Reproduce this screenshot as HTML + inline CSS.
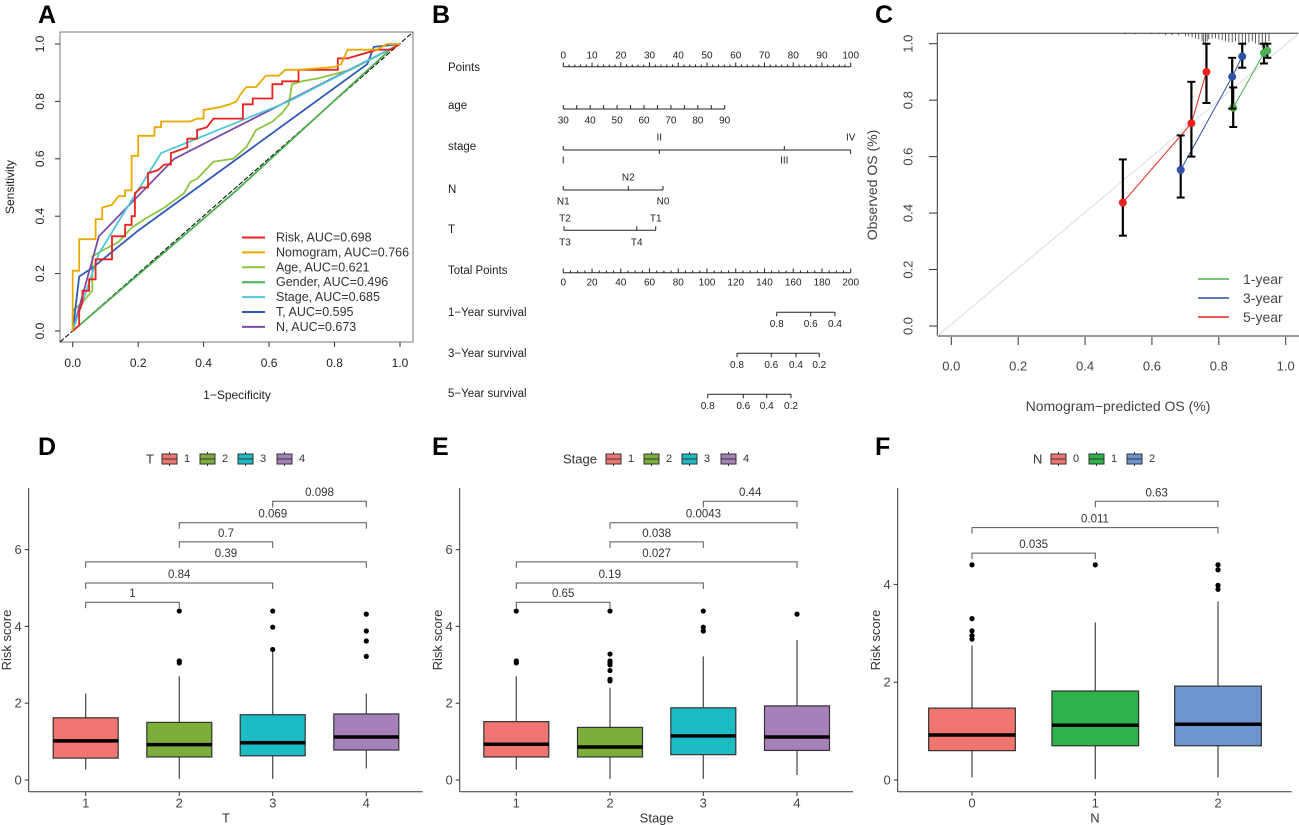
<!DOCTYPE html>
<html><head><meta charset="utf-8"><style>
html,body{margin:0;padding:0;background:#fff}
svg{display:block;font-family:"Liberation Sans",Arial,sans-serif}
</style></head><body>
<svg id="fig" width="1299" height="825" viewBox="0 0 1299 825" xmlns="http://www.w3.org/2000/svg"></svg>
<script>
// ---------- Panel A data (ROC) ----------
const rocNames = ["Risk, AUC=0.698","Nomogram, AUC=0.766","Age, AUC=0.621","Gender, AUC=0.496","Stage, AUC=0.685","T, AUC=0.595","N, AUC=0.673"];
const rocColors = ["#e8231f","#e8a900","#8cc63f","#4caf50","#4fc7d9","#2f59b5","#7b4ba8"];
const rocRiskFpr = [0,0.02,0.02,0.03,0.03,0.05,0.05,0.07,0.07,0.12,0.12,0.16,0.16,0.18,0.18,0.19,0.19,0.21,0.23,0.23,0.26,0.28,0.3,0.3,0.35,0.35,0.38,0.38,0.41,0.43,0.52,0.52,0.55,0.55,0.61,0.61,0.64,0.64,0.69,0.69,0.81,0.81,0.84,0.93,0.97,1];
const rocRiskTpr = [0,0.02,0.07,0.1,0.14,0.14,0.18,0.18,0.25,0.25,0.33,0.33,0.37,0.37,0.40,0.40,0.48,0.5,0.5,0.55,0.56,0.58,0.58,0.62,0.64,0.67,0.67,0.70,0.71,0.74,0.74,0.79,0.79,0.81,0.81,0.86,0.86,0.87,0.87,0.91,0.91,0.95,0.95,0.98,0.98,1];
const rocNomoFpr = [0,0,0.02,0.02,0.07,0.07,0.09,0.09,0.12,0.14,0.16,0.16,0.18,0.18,0.2,0.2,0.25,0.25,0.27,0.27,0.36,0.38,0.4,0.4,0.45,0.48,0.5,0.51,0.53,0.56,0.59,0.63,0.65,0.69,0.8,0.82,0.84,0.93,0.96,1];
const rocNomoTpr = [0,0.21,0.21,0.32,0.32,0.39,0.39,0.43,0.44,0.47,0.47,0.49,0.49,0.61,0.61,0.68,0.68,0.71,0.71,0.73,0.73,0.74,0.74,0.77,0.78,0.79,0.8,0.82,0.85,0.85,0.89,0.89,0.91,0.91,0.92,0.93,0.98,0.98,1,1];
const rocAgeFpr = [0,0,0.03,0.06,0.06,0.09,0.14,0.18,0.22,0.28,0.34,0.36,0.38,0.43,0.49,0.53,0.56,0.61,0.64,0.66,0.67,0.7,0.75,0.85,1];
const rocAgeTpr = [0,0.07,0.1,0.14,0.26,0.28,0.31,0.36,0.39,0.43,0.48,0.52,0.53,0.59,0.6,0.64,0.7,0.73,0.76,0.79,0.86,0.87,0.88,0.91,1];
const rocGenderFpr = [0,0.5,0.95,0.97,1];
const rocGenderTpr = [0,0.49,0.96,0.98,1];
const rocStageFpr = [0,0.08,0.15,0.27,0.66,1];
const rocStageTpr = [0,0.27,0.4,0.62,0.8,1];
const rocTFpr = [0,0.02,0.06,0.2,0.9,0.92,1];
const rocTTpr = [0,0.19,0.22,0.35,0.93,0.99,1];
const rocNFpr = [0,0.08,0.31,1];
const rocNTpr = [0,0.33,0.6,1];
const rocTicks = [0,0.2,0.4,0.6,0.8,1.0];

// ---------- Panel C data (calibration) ----------
const calGroups = ["1-year","3-year","5-year"];
const calColors = ["#4caf50","#2f4fa8","#e8231f"];
const cal1Pred = [0.843,0.935,0.945];
const cal1Obs = [0.773,0.967,0.975];
const cal1Lo = [0.705,0.93,0.95];
const cal1Hi = [0.845,1.0,1.0];
const cal3Pred = [0.686,0.84,0.87];
const cal3Obs = [0.553,0.883,0.955];
const cal3Lo = [0.455,0.77,0.915];
const cal3Hi = [0.675,0.95,1.0];
const cal5Pred = [0.513,0.718,0.763];
const cal5Obs = [0.437,0.718,0.9];
const cal5Lo = [0.32,0.6,0.79];
const cal5Hi = [0.59,0.865,1.0];
const calRug = [0.52,0.55,0.6,0.62,0.64,0.66,0.68,0.7,0.71,0.72,0.73,0.74,0.75,0.755,0.76,0.765,0.77,0.78,0.79,0.8,0.81,0.82,0.83,0.84,0.85,0.86,0.87,0.88,0.89,0.9,0.91,0.92,0.93,0.94,0.95];
const calRugH = [1,1,1,1,2,2,2,3,3,4,5,6,8,10,12,8,6,5,5,6,7,8,9,9,8,9,10,12,9,8,10,12,14,12,8];
const calTicks = [0,0.2,0.4,0.6,0.8,1.0];

// ---------- Panel D/E/F data (boxplots) ----------
const dCats = ["1","2","3","4"];
const dQ1 = [0.57,0.6,0.63,0.78];
const dMed = [1.02,0.92,0.97,1.12];
const dQ3 = [1.62,1.5,1.7,1.72];
const dLo = [0.27,0.03,0.03,0.3];
const dHi = [2.25,2.7,3.35,2.25];
const dOut = [[],[3.05,3.1,4.4],[3.4,3.98,4.4],[3.22,3.62,3.88,4.32]];
const dBrFrom = [0,0,0,1,1,2];
const dBrTo = [1,2,3,2,3,3];
const dBrY = [4.63,5.13,5.68,6.2,6.7,7.26];
const dBrLab = ["1","0.84","0.39","0.7","0.069","0.098"];

const eCats = ["1","2","3","4"];
const eQ1 = [0.6,0.6,0.66,0.77];
const eMed = [0.93,0.86,1.15,1.12];
const eQ3 = [1.52,1.37,1.88,1.93];
const eLo = [0.27,0.03,0.03,0.13];
const eHi = [2.7,2.4,3.22,3.65];
const eOut = [[3.05,3.1,4.4],[2.58,2.62,2.85,3.0,3.05,3.1,3.28,4.4],[3.88,3.98,4.4],[4.32]];
const eBrFrom = [0,0,0,1,1,2];
const eBrTo = [1,2,3,2,3,3];
const eBrY = [4.63,5.13,5.68,6.2,6.7,7.26];
const eBrLab = ["0.65","0.19","0.027","0.038","0.0043","0.44"];

const fCats = ["0","1","2"];
const fQ1 = [0.6,0.7,0.7];
const fMed = [0.92,1.12,1.14];
const fQ3 = [1.47,1.82,1.92];
const fLo = [0.05,0.02,0.05];
const fHi = [2.75,3.22,3.65];
const fOut = [[2.88,2.95,3.05,3.3,4.4],[4.4],[3.9,3.98,4.3,4.4]];
const fBrFrom = [0,0,1];
const fBrTo = [1,2,2];
const fBrY = [4.64,5.16,5.7];
const fBrLab = ["0.035","0.011","0.63"];

const NS = "http://www.w3.org/2000/svg";
const svg = document.getElementById("fig");
function mk(tag, attrs, parent, text){
  const e = document.createElementNS(NS, tag);
  for (const k in attrs) e.setAttribute(k, attrs[k]);
  if (text !== undefined) e.textContent = text;
  (parent || svg).appendChild(e);
  return e;
}
function grp(name){
  const g = mk("g", {});
  
  
  return g;
}
function txt(g, x, y, s, opts){
  opts = opts || {};
  const t = mk("text", {x:x, y:y, "font-size":opts.size||12, fill:opts.fill||"#222", "text-anchor":opts.anchor||"middle", "dominant-baseline":"central", "font-weight":opts.weight||"normal"}, g, s);
  if (opts.rot) t.setAttribute("transform", `rotate(${opts.rot} ${x} ${y})`);
  
  
  return t;
}
function ln(g, x1,y1,x2,y2, stroke, w, extra){
  const l = mk("line", Object.assign({x1:x1,y1:y1,x2:x2,y2:y2,stroke:stroke||"#000","stroke-width":w||1}, extra||{}), g);
  return l;
}

// ===== Panel labels =====
const labs = grp("panel-labels");
[["A",38,15],["B",432,15],["C",875,15],["D",38,447],["E",432,447],["F",875,447]].forEach(p=>{
  txt(labs,p[1],p[2],p[0],{size:25,weight:"bold",anchor:"start",fill:"#000",name:"panel-label-"+p[0].toLowerCase()});
});

// ===== Panel A =====
(function(){
  const g = grp("roc-chart");
  const xS = v => 72.7 + v*(400-72.7);
  const yS = v => 331 - v*(331-44);
  mk("rect",{x:60,y:32,width:353,height:310,fill:"none",stroke:"#777","stroke-width":1},g);
  rocTicks.forEach(t=>{
    ln(g,xS(t),342,xS(t),347,"#333");
    txt(g,xS(t),363,t.toFixed(1),{size:12,name:"x-tick-label"});
    ln(g,55,yS(t),60,yS(t),"#333");
    txt(g,40,yS(t),t.toFixed(1),{size:12,rot:-90,name:"y-tick-label"});
  });
  txt(g,237,395,"1\u2212Specificity",{size:12,name:"x-axis-title"});
  txt(g,10,187,"Sensitivity",{size:12,rot:-90,name:"y-axis-title"});
  ln(g,60,342,413,32,"#000",1,{"stroke-dasharray":"5,2"});
  const series = [[rocRiskFpr,rocRiskTpr],[rocNomoFpr,rocNomoTpr],[rocAgeFpr,rocAgeTpr],[rocGenderFpr,rocGenderTpr],[rocStageFpr,rocStageTpr],[rocTFpr,rocTTpr],[rocNFpr,rocNTpr]];
  const order=[3,2,5,6,4,0,1];
  order.forEach(i=>{
    const [fx,ty]=series[i];
    const d = fx.map((v,k)=>(k?"L":"M")+xS(v).toFixed(1)+","+yS(ty[k]).toFixed(1)).join("");
    const p = mk("path",{d:d,fill:"none",stroke:rocColors[i],"stroke-width":1.8},g);
    
    
  });
  const lg = grp("roc-legend");
  rocNames.forEach((n,i)=>{
    const y = 237.5 + i*14.9;
    ln(lg,242,y,265,y,rocColors[i],2);
    txt(lg,276,y,n,{size:12.5,anchor:"start",fill:"#333",name:"legend-entry"});
  });
})();

// ===== Panel B nomogram =====
(function(){
  const g = grp("nomogram");
  const x0=563.3, x1=850.7;
  const rowLab = [["Points",68],["age",106],["stage",147],["N",190],["T",230],["Total Points",271],["1\u2212Year survival",313],["3\u2212Year survival",354],["5\u2212Year survival",394]];
  rowLab.forEach(r=>txt(g,448,r[1],r[0],{size:11.5,anchor:"start",fill:"#222",name:"nomogram-row-label"}));
  // Points
  ln(g,x0,66.7,x1,66.7,"#222");
  for(let v=0;v<=100;v+=2){const x=x0+(x1-x0)*v/100; ln(g,x,66.7,x,v%10===0?62.5:64.5,"#222");}
  for(let v=0;v<=100;v+=10){txt(g,x0+(x1-x0)*v/100,56,String(v),{size:10,name:"points-tick"});}
  // age
  const ax1=724.7;
  ln(g,x0,109,ax1,109,"#222");
  for(let v=30;v<=90;v+=5){const x=x0+(ax1-x0)*(v-30)/60; ln(g,x,109,x,105,"#222"); if(v%10===0) txt(g,x,121,String(v),{size:10,name:"age-tick"});}
  // stage
  ln(g,x0,150,x1,150,"#222");
  [[x0,"I",1],[659.3,"II",-1],[784.3,"III",1],[x1,"IV",-1]].forEach(s=>{ln(g,s[0],150,s[0],150+s[2]*-4,"#222"); txt(g,s[0],s[2]>0?161:138,s[1],{size:10,name:"stage-tick"});});
  // N
  ln(g,x0,190,663,190,"#222");
  [[x0,"N1",1],[628.3,"N2",-1],[663,"N0",1]].forEach(s=>{ln(g,s[0],190,s[0],186,"#222"); txt(g,s[0],s[2]>0?202:178,s[1],{size:10,name:"n-tick"});});
  // T
  ln(g,564,230.3,655.7,230.3,"#222");
  [[564,"T2",-1],[655.7,"T1",-1],[564,"T3",1],[636.7,"T4",1]].forEach(s=>{ln(g,s[0],230.3,s[0],226.3,"#222"); txt(g,s[0]+(s[1]==="T2"||s[1]==="T3"?1:0),s[2]>0?243:219,s[1],{size:10,name:"t-tick"});});
  // Total points
  ln(g,x0,272.7,x1,272.7,"#222");
  for(let v=0;v<=200;v+=5){const x=x0+(x1-x0)*v/200; ln(g,x,272.7,x,v%20===0?268.5:270.5,"#222");}
  for(let v=0;v<=200;v+=20){txt(g,x0+(x1-x0)*v/200,283,String(v),{size:10,name:"total-points-tick"});}
  // survival axes
  const surv=[[312.3,[[776.7,"0.8"],[810.7,"0.6"],[835,"0.4"]]],[353.3,[[737,"0.8"],[771.3,"0.6"],[796,"0.4"],[819.3,"0.2"]]],[394.3,[[707.7,"0.8"],[743.3,"0.6"],[766.7,"0.4"],[791,"0.2"]]]];
  surv.forEach(s=>{
    const xs=s[1];
    ln(g,xs[0][0],s[0],xs[xs.length-1][0],s[0],"#222");
    xs.forEach(t=>{ln(g,t[0],s[0],t[0],s[0]+4,"#222"); txt(g,t[0],s[0]+12,t[1],{size:10,name:"survival-tick"});});
  });
})();

// ===== Panel C calibration =====
(function(){
  const g = grp("calibration-chart");
  const xS = v => 951.3 + v*(1285.7-951.3);
  const yS = v => 326 - v*(326-43.7);
  ln(g,937.3,33.3,1299,33.3,"#333"); ln(g,937.3,33.3,937.3,336,"#333"); ln(g,937.3,336,1299,336,"#333");
  calTicks.forEach(t=>{
    ln(g,xS(t),337,xS(t),345,"#333");
    txt(g,xS(t),366,t.toFixed(1),{size:13,fill:"#444",name:"x-tick-label"});
    ln(g,929,yS(t),937.3,yS(t),"#333");
    txt(g,908,yS(t),t.toFixed(1),{size:13,fill:"#444",rot:-90,name:"y-tick-label"});
  });
  txt(g,1118,406,"Nomogram\u2212predicted OS (%)",{size:14,fill:"#444",name:"x-axis-title"});
  txt(g,872,185,"Observed OS (%)",{size:14,fill:"#444",rot:-90,name:"y-axis-title"});
  ln(g,937.3,336,1299,33.3,"#ddd",1);
  calRug.forEach((v,i)=>ln(g,xS(v),33.3,xS(v),33.3+calRugH[i],"#333",0.8));
  const sets=[[cal1Pred,cal1Obs,cal1Lo,cal1Hi],[cal3Pred,cal3Obs,cal3Lo,cal3Hi],[cal5Pred,cal5Obs,cal5Lo,cal5Hi]];
  sets.forEach((s,i)=>{
    const d=s[0].map((v,k)=>(k?"L":"M")+xS(v).toFixed(1)+","+yS(s[1][k]).toFixed(1)).join("");
    const p=mk("path",{d:d,fill:"none",stroke:calColors[i],"stroke-width":1},g);
    
    
  });
  sets.forEach((s,i)=>{
    s[0].forEach((v,k)=>{
      const x=xS(v);
      ln(g,x,yS(s[2][k]),x,yS(s[3][k]),"#000",2.2);
      ln(g,x-4,yS(s[2][k]),x+4,yS(s[2][k]),"#000",2);
      ln(g,x-4,yS(s[3][k]),x+4,yS(s[3][k]),"#000",2);
      const c=mk("circle",{cx:x,cy:yS(s[1][k]),r:4,fill:calColors[i]},g);
      
      
    });
  });
  const lg=grp("calibration-legend");
  calGroups.forEach((n,i)=>{const y=279+i*19; ln(lg,1198,y,1229,y,calColors[i],1.5); txt(lg,1243,y,n,{size:14,anchor:"start",fill:"#444",name:"legend-entry"});});
})();

// ===== Boxplots =====
function boxPanel(cfg){
  const g = grp(cfg.name);
  const yS = v => cfg.y0 - v*cfg.unit;
  ln(g,cfg.ax,cfg.top,cfg.ax,791.7,"#333");
  ln(g,cfg.ax,791.7,cfg.axEnd,791.7,"#333");
  cfg.yTicks.forEach(t=>{ln(g,cfg.ax-4,yS(t),cfg.ax,yS(t),"#333"); txt(g,cfg.ax-7,yS(t),String(t),{size:13,anchor:"end",fill:"#444",name:"y-tick-label"});});
  txt(g,cfg.ax-22,640,"Risk score",{size:13,fill:"#333",rot:-90,name:"y-axis-title"});
  txt(g,(cfg.xs[0]+cfg.xs[cfg.xs.length-1])/2,818,cfg.title,{size:13,fill:"#333",name:"x-axis-title"});
  const bw=cfg.bw;
  cfg.cats.forEach((c,i)=>{
    const x=cfg.xs[i];
    ln(g,x,791.7,x,796,"#333");
    txt(g,x,803,c,{size:13,fill:"#444",name:"x-tick-label"});
    ln(g,x,yS(cfg.lo[i]),x,yS(cfg.hi[i]),"#444",1.2);
    const r=mk("rect",{x:x-bw/2,y:yS(cfg.q3[i]),width:bw,height:yS(cfg.q1[i])-yS(cfg.q3[i]),fill:cfg.colors[i],stroke:"#333","stroke-width":1.2},g);
    
    
    ln(g,x-bw/2,yS(cfg.med[i]),x+bw/2,yS(cfg.med[i]),"#000",3.5);
    cfg.out[i].forEach(o=>{const c2=mk("circle",{cx:x,cy:yS(o),r:2.6,fill:"#000"},g);  });
  });
  cfg.brFrom.forEach((a,k)=>{
    const y=yS(cfg.brY[k]), xa=cfg.xs[a], xb=cfg.xs[cfg.brTo[k]];
    mk("path",{d:`M${xa},${y+6}V${y}H${xb}V${y+6}`,fill:"none",stroke:"#555","stroke-width":1},g);
    txt(g,(xa+xb)/2,y-8,cfg.brLab[k],{size:11.5,fill:"#333",name:"p-value-label"});
  });
  const lg=grp(cfg.name+"-legend");
  txt(lg,cfg.legX,459,cfg.title,{size:13,anchor:"start",fill:"#333",name:"legend-title"});
  cfg.cats.forEach((c,i)=>{
    const kx=cfg.legKeys[i];
    ln(lg,kx+7.5,452,kx+7.5,466,"#333");
    mk("rect",{x:kx,y:454,width:15,height:10,fill:cfg.colors[i],stroke:"#333","stroke-width":1},lg);
    ln(lg,kx,459,kx+15,459,"#333");
    txt(lg,kx+22,459,c,{size:11,anchor:"start",fill:"#333",name:"legend-entry"});
  });
}
const c4=["#f07470","#7cae3c","#1bbcc4","#a680b9"];
boxPanel({name:"boxplot-t",title:"T",cats:dCats,q1:dQ1,med:dMed,q3:dQ3,lo:dLo,hi:dHi,out:dOut,brFrom:dBrFrom,brTo:dBrTo,brY:dBrY,brLab:dBrLab,
  ax:28.7,axEnd:422.7,top:488,y0:780,unit:38.4,yTicks:[0,2,4,6],xs:[85.7,179.3,272.7,366.3],bw:65,colors:c4,legX:146,legKeys:[162,200,238,277]});
boxPanel({name:"boxplot-stage",title:"Stage",cats:eCats,q1:eQ1,med:eMed,q3:eQ3,lo:eLo,hi:eHi,out:eOut,brFrom:eBrFrom,brTo:eBrTo,brY:eBrY,brLab:eBrLab,
  ax:459.7,axEnd:853,top:488,y0:780,unit:38.4,yTicks:[0,2,4,6],xs:[516.3,610,703.3,797],bw:65,colors:c4,legX:563,legKeys:[606,644,682,721]});
boxPanel({name:"boxplot-n",title:"N",cats:fCats,q1:fQ1,med:fMed,q3:fQ3,lo:fLo,hi:fHi,out:fOut,brFrom:fBrFrom,brTo:fBrTo,brY:fBrY,brLab:fBrLab,
  ax:897.7,axEnd:1291.7,top:488,y0:780,unit:48.9,yTicks:[0,2,4],xs:[972,1095.3,1218],bw:86.7,colors:["#f07470","#2db34a","#6f95d0"],legX:1033,legKeys:[1051,1089,1127]});
</script>
</body></html>
